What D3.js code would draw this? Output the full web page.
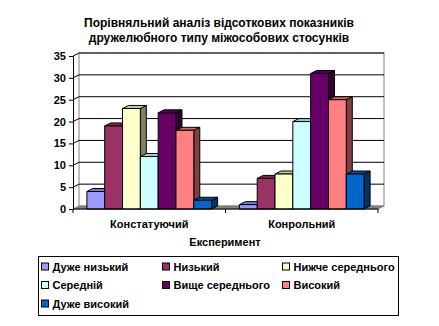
<!DOCTYPE html>
<html><head><meta charset="utf-8">
<script src="https://cdn.jsdelivr.net/npm/d3@7"></script>
<style>body{margin:0;background:#fff}svg{display:block}text{font-family:"Liberation Sans",Arial,sans-serif}</style>
</head><body>
<script>
const categories = ["Констатуючий", "Конрольний"];
const seriesNames = ["Дуже низький", "Низький", "Нижче середнього", "Середній", "Вище середнього", "Високий", "Дуже високий"];
const constatValues = [4, 19, 23, 12, 22, 18, 2];
const controlValues = [1, 7, 8, 20, 31, 25, 8];
const seriesColors = ["#9999FF", "#993366", "#FFFFCC", "#CCFFFF", "#660066", "#FF8080", "#0066CC"];
const yTicks = [0, 5, 10, 15, 20, 25, 30, 35];
const titleLines = ["Порівняльний аналіз відсоткових показників", "дружелюбного типу міжособових стосунків"];
const xTitle = "Експеримент";

const W = 439, H = 326;
const svg = d3.select("body").append("svg").attr("width", W).attr("height", H);
const dx = 6, dy = -3;
const y = d3.scaleLinear().domain([0, 35]).range([209, 56]);
const x0 = d3.scaleBand().domain(categories).range([73, 378]).paddingInner(0).paddingOuter(0);
const x1 = d3.scaleBand().domain(seriesNames).range([0, x0.bandwidth()]).paddingInner(0).paddingOuter(0.78);
const color = d3.scaleOrdinal().domain(seriesNames).range(seriesColors);
const data = [constatValues, controlValues];

// title
svg.append("g").selectAll("text").data(titleLines).join("text")
  .attr("x", 219).attr("y", (d, i) => 27 + i * 15)
  .attr("text-anchor", "middle").attr("font-weight", "bold").attr("font-size", 12)
  .text(d => d);

// back wall
const x0L = x0.range()[0], x0R = x0.range()[1];
svg.append("rect").attr("x", x0L + dx).attr("y", y(35) + dy).attr("width", x0R - x0L).attr("height", y(0) - y(35))
  .attr("fill", "#fff").attr("stroke", "#808080");
// gridlines
const gl = svg.append("g");
yTicks.filter(t => t > 0).forEach(t => {
  gl.append("line").attr("x1", x0L + dx).attr("x2", x0R + dx).attr("y1", y(t) + dy).attr("y2", y(t) + dy).attr("stroke", "#000");
  gl.append("line").attr("x1", x0L).attr("x2", x0L + dx).attr("y1", y(t)).attr("y2", y(t) + dy).attr("stroke", "#000");
});
// floor
svg.append("polygon").attr("points", [[x0L, y(0)], [x0R, y(0)], [x0R + dx, y(0) + dy], [x0L + dx, y(0) + dy]].map(p => p.join(",")).join(" "))
  .attr("fill", "#808080").attr("stroke", "#808080");

// bars
const bars = [];
categories.forEach((c, ci) => seriesNames.forEach((s, si) => bars.push({ c, s, v: data[ci][si] })));
const shade = (col, k) => { const r = d3.rgb(col); return d3.rgb(r.r * k, r.g * k, r.b * k).formatHex(); };
const bg = svg.append("g").attr("stroke", "#000").attr("stroke-width", 1).attr("stroke-linejoin", "round");
bars.forEach(b => {
  const xl = x0(b.c) + x1(b.s), xr = xl + x1.bandwidth();
  const yt = y(b.v), yb = y(0);
  const col = color(b.s);
  const g = bg.append("g");
  g.append("polygon").attr("points", [[xr, yb], [xr + dx, yb + dy], [xr + dx, yt + dy], [xr, yt]].map(p => p.join(",")).join(" ")).attr("fill", shade(col, 0.5));
  g.append("polygon").attr("points", [[xl, yt], [xr, yt], [xr + dx, yt + dy], [xl + dx, yt + dy]].map(p => p.join(",")).join(" ")).attr("fill", shade(col, 0.8));
  g.append("rect").attr("x", xl).attr("y", yt).attr("width", xr - xl).attr("height", yb - yt).attr("fill", col);
});

// y axis
const ya = svg.append("g").attr("transform", `translate(${x0L},0)`)
  .call(d3.axisLeft(y).tickValues(yTicks).tickSize(4).tickPadding(3).tickFormat(d3.format("d")));
ya.select(".domain").attr("stroke", "#000");
ya.selectAll("text").attr("font-family", "Liberation Sans").attr("font-weight", "bold").attr("font-size", 11).attr("fill", "#000");

// x axis
const xa = svg.append("g").attr("transform", `translate(0,${y(0)})`)
  .call(d3.axisBottom(x0).tickSize(0).tickPadding(11));
xa.select(".domain").remove();
svg.append("line").attr("x1", x0L).attr("x2", x0R).attr("y1", y(0)).attr("y2", y(0)).attr("stroke", "#000");
[x0L, x0L + x0.step(), x0R].forEach(xx => svg.append("line").attr("x1", xx).attr("x2", xx).attr("y1", y(0)).attr("y2", y(0) + 4).attr("stroke", "#000"));
xa.selectAll("text").attr("font-family", "Liberation Sans").attr("font-weight", "bold").attr("font-size", 11).attr("fill", "#000");

svg.append("text").attr("x", 225).attr("y", 246).attr("text-anchor", "middle").attr("font-weight", "bold").attr("font-size", 11).text(xTitle);

// legend
svg.append("rect").attr("x", 38.5).attr("y", 256.5).attr("width", 360).attr("height", 59).attr("fill", "#fff").attr("stroke", "#000");
const colX = [41.5, 162.5, 282.5];
const rowY = [266.5, 285, 303.5];
const lg = svg.append("g").selectAll("g").data(seriesNames).join("g")
  .attr("transform", (d, i) => `translate(${colX[i % 3]},${rowY[Math.floor(i / 3)]})`);
lg.append("rect").attr("x", 0).attr("y", -3.5).attr("width", 7).attr("height", 7).attr("fill", d => color(d)).attr("stroke", "#000");
lg.append("text").attr("x", 11).attr("y", 4).attr("font-weight", "bold").attr("font-size", 11).text(d => d);
</script>
</body></html>
